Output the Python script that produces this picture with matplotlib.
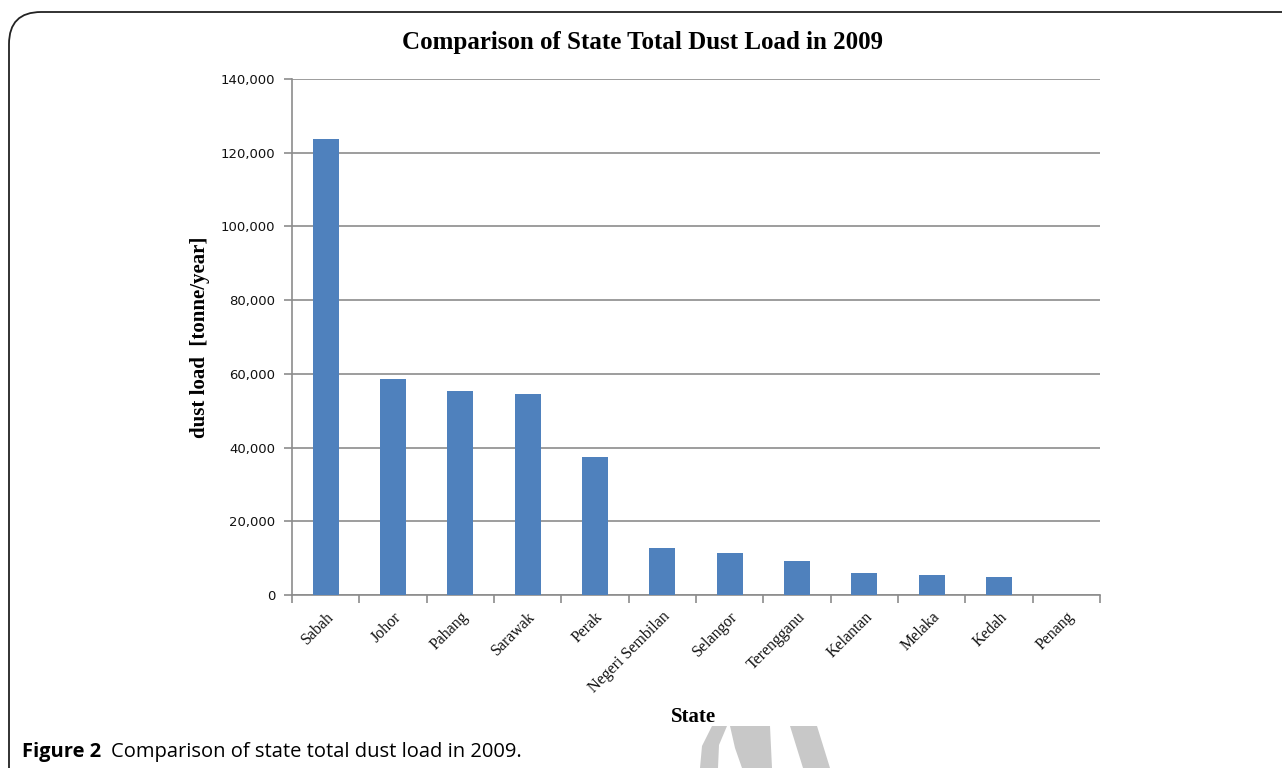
import matplotlib.pyplot as plt
import matplotlib.ticker as mticker
from matplotlib.patches import FancyBboxPatch, Polygon

states = ["Sabah", "Johor", "Pahang", "Sarawak", "Perak", "Negeri Sembilan",
          "Selangor", "Terengganu", "Kelantan", "Melaka", "Kedah", "Penang"]
dust_load = [123600, 58500, 55300, 54600, 37400, 12800,
             11400, 9300, 6000, 5300, 5000, 0]
y_ticks = [0, 20000, 40000, 60000, 80000, 100000, 120000, 140000]

W, H = 1282, 768
fig = plt.figure(figsize=(W / 100, H / 100), dpi=100)

# rounded frame round the figure
frame = FancyBboxPatch((9 / W, -0.05), 1.2, 1.05 - 12 / H,
                       boxstyle="round,pad=0,rounding_size=0.025",
                       transform=fig.transFigure, fill=False,
                       edgecolor="#222222", linewidth=1.3, mutation_aspect=W / H)
fig.patches.append(frame)

ax = fig.add_axes([292 / W, 1 - 595 / H, (1100 - 292) / W, (595 - 79) / H])
x = list(range(len(states)))
ax.bar(x, dust_load, width=0.39, color="#4F81BD", zorder=3)

ax.set_xlim(-0.5, len(states) - 0.5)
ax.set_ylim(0, 140000)
ax.set_yticks(y_ticks)
ax.yaxis.set_major_formatter(mticker.FuncFormatter(lambda v, p: f"{int(v):,}"))
ax.grid(axis="y", color="#8c8c8c", linewidth=1.2, zorder=0)

ax.set_xticks([i + 0.5 for i in range(-1, len(states))], minor=False)
ax.set_xticklabels([])
ax.set_xticks(x, minor=True)
ax.set_xticklabels(states, minor=True, rotation=45, ha="right", va="top",
                   rotation_mode="anchor", family="Liberation Serif", fontsize=11.5,
                   color="#111111")
ax.tick_params(axis="x", which="minor", length=0, pad=10)
ax.tick_params(axis="x", which="major", length=6, color="#8c8c8c", width=1.2)
ax.tick_params(axis="y", length=6, color="#8c8c8c", width=1.2, labelsize=9.5,
               labelcolor="#111111", pad=6)
for lab in ax.get_yticklabels():
    lab.set_family("DejaVu Sans")

for s in ["top", "right"]:
    ax.spines[s].set_visible(False)
for s in ["left", "bottom"]:
    ax.spines[s].set_color("#8c8c8c")
    ax.spines[s].set_linewidth(1.2)

ax.set_ylabel("dust load  [tonne/year]", family="Liberation Serif",
              fontweight="bold", fontsize=15, labelpad=8)

fig.text(643 / W, 1 - 42 / H, "Comparison of State Total Dust Load in 2009",
         family="Liberation Serif", fontweight="bold", fontsize=18,
         ha="center", va="center")
fig.text(694 / W, 1 - 717 / H, "State", family="Liberation Serif",
         fontweight="bold", fontsize=15, ha="center", va="center")

# grey watermark shapes at the bottom
wm = [
    [(712, 726), (727, 726), (719, 745), (718, 768), (700, 768), (702, 746)],
    [(730, 726), (770, 726), (772, 768), (742, 768), (735, 748)],
    [(790, 726), (817, 726), (830, 768), (803, 768)],
]
for pts in wm:
    fig.patches.append(Polygon([(px / W, 1 - py / H) for px, py in pts],
                               closed=True, transform=fig.transFigure,
                               facecolor="#c8c8c8", edgecolor="none", zorder=1))

fig.text(22 / W, 1 - 752 / H, "Figure 2", family="Open Sans",
         fontweight="bold", fontsize=14.5, ha="left", va="center", zorder=5)
fig.text(111 / W, 1 - 752 / H, "Comparison of state total dust load in 2009.",
         family="Open Sans", fontsize=14.5, ha="left", va="center", zorder=5)

fig.savefig("out.png", dpi=100)
